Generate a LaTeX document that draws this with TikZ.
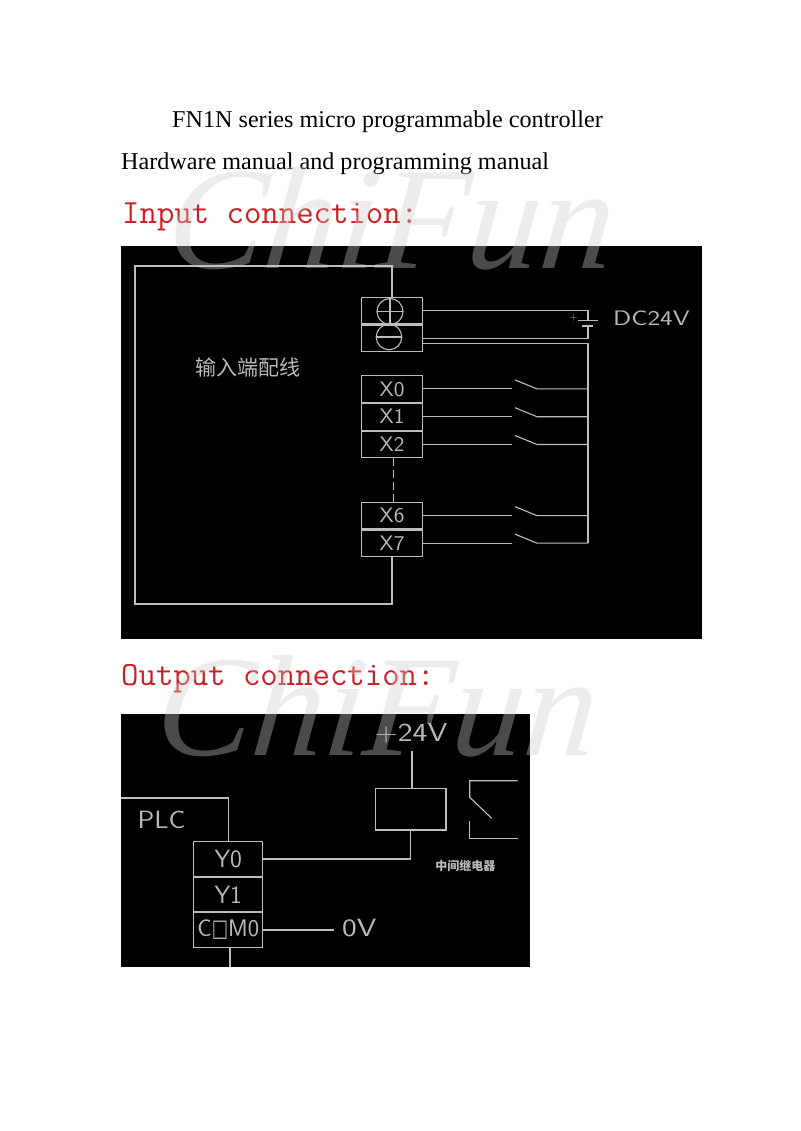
\documentclass[tikz,border=0pt]{standalone}
\usepackage{fontspec}
\setmainfont{Liberation Serif}
\newfontfamily\cjk{Noto Sans CJK SC}
\newfontfamily\symb{DejaVu Sans}
\newfontfamily\markfont[FakeSlant=0.1]{Liberation Serif}
\tikzset{
  wire/.style = {draw = cadgray,line width = 1.1pt},
  cadtext/.style = {text = cadtone,font = \sffamily\fontsize{#1}{#1}\selectfont,inner sep = 0pt},
  termbox/.style 2 args = {draw = cadgray,line width = 1.1pt,minimum width = #1,minimum height = #2,inner sep = 0pt,outer sep = 0pt},
  headline/.style = {anchor = base west,inner sep = 0pt,text = black,font = \fontsize{24.15}{24.15}\selectfont},
  redhead/.style = {anchor = base west,inner sep = 0pt,text = headred,font = \ttfamily\fontsize{33.8}{33.8}\selectfont},
  watermark/.style = {anchor = base west,inner sep = 0pt,text = markgray,text opacity = 0.37,font = \markfont\itshape\fontsize{#1}{#1}\selectfont}
}
\newcommand{\cadwide}[2]{\scalebox{#1}[1]{#2}}
\definecolor{cadgray}{gray}{0.74}
\definecolor{cadtone}{gray}{0.72}
\definecolor{headred}{RGB}{205,30,35}
\definecolor{markgray}{gray}{0.8}
\begin{document}
\begin{tikzpicture}[x = 1pt,y = -1pt]
    \useasboundingbox [fill = white] (0,0) rectangle (800,1131);
    \node [headline] (titleone) at (172,127.5) {FN1N series micro programmable controller};
    \node [headline] (titletwo) at (121,169.5) {Hardware manual and programming manual};
    \node [redhead] (inputhead) at (122,224) {Input connection:};
    \node [redhead] (outputhead) at (121,685.5) {Output connection:};
    \fill [black] (121,246) rectangle (702,639);
    \fill [black] (121,714) rectangle (530,967);
    % input side
    \matrix (powerblock) at (392,324.5) [inner sep = 0pt]{
        \node [termbox = {60.5}{26.5}] (plus) {}; \\
        \node [termbox = {60.5}{26.5}] (minus) {}; \\
    };
    \matrix (lowblock) at (392,416.7) [inner sep = 0pt]{
        \node [termbox = {60.5}{26.7},cadtext = 21] (X0) {\cadwide{1.08}{X0}}; \\
        \node [termbox = {60.5}{26.7},cadtext = 21] (X1) {\cadwide{1.08}{X1}}; \\
        \node [termbox = {60.5}{26.7},cadtext = 21] (X2) {\cadwide{1.08}{X2}}; \\
    };
    \matrix (highblock) at (392,529.4) [inner sep = 0pt]{
        \node [termbox = {60.5}{26.4},cadtext = 21] (X6) {\cadwide{1.08}{X6}}; \\
        \node [termbox = {60.5}{26.4},cadtext = 21] (X7) {\cadwide{1.08}{X7}}; \\
    };
    \draw [wire] (390,311.5) circle (13);
    \draw [wire] (377,311.5) -- (403,311.5) (390,298.5) -- (390,324);
    \draw [wire] (389,337) circle (12.8);
    \draw [wire] (376.2,337) -- (401.8,337);
    \coordinate (bus) at (588,0);
    \coordinate (swleft) at (512,0);
    \coordinate (swright) at (537,0);
    \coordinate (plateone) at (588,320.7);
    \coordinate (platetwo) at (588,326);
    \coordinate (plcnw) at (135,266);
    \coordinate (plcsw) at (135,604);
    \draw [wire] (plus.north) |- (plcnw) -- (plcsw) -| (X7.south);
    \draw [wire] (plus.east) -- (plus.east -| bus) -- (plateone);
    \draw [wire] (minus.east) -- (minus.east -| bus) -- (platetwo);
    \draw [wire] ([xshift = -10pt]plateone) -- ([xshift = 10pt]plateone);
    \draw [wire] ([xshift = -6pt]platetwo) -- ([xshift = 5pt]platetwo);
    \node [cadtext = 11] (batplus) at (573.5,317.5) {+};
    \node [cadtext = 21,anchor = west] (dclabel) at (613,318.5) {\cadwide{1.28}{DC24V}};
    \draw [wire] ([yshift = -5.5pt]minus.east) -- ([yshift = -5.5pt]minus.east -| bus) -- (X7.east -| bus);
    \foreach \name in {X0,X1,X2,X6,X7} {
        \coordinate (\name left) at (\name.east -| swleft);
        \draw [wire] (\name.east) -- (\name left);
        \draw [wire] ([shift = {(3,-9)}]\name left) -- (\name.east -| swright) -- (\name.east -| bus);
    }
    \draw [wire,dash pattern = on 8pt off 4pt] ([xshift = 1.5pt]X2.south) -- ([xshift = 1.5pt]X6.north);
    \node [text = cadtone,font = \cjk\fontsize{21}{21}\selectfont,inner sep = 0pt] (inlabel) at (248,368) {输入端配线};
    % output side
    \matrix (outblock) at (228.2,894.5) [inner sep = 0pt]{
        \node [termbox = {69}{34.4},cadtext = 25] (Y0) {Y0}; \\
        \node [termbox = {69}{34.4},cadtext = 25] (Y1) {Y1}; \\
        \node [termbox = {69}{34.4},cadtext = 24] (COM0) {C\cadwide{0.72}{\symb □}M0}; \\
    };
    \node [termbox = {70.3}{41.3}] (coil) at (410.8,809.3) {};
    \node [cadtext = 25] (plclabel) at (161.5,820) {\cadwide{1.12}{PLC}};
    \node [cadtext = 26] (supply) at (411,733.5) {\cadwide{1.22}{+24V}};
    \node [cadtext = 25,anchor = west,inner sep = 8pt] (zero) at (334,928) {\cadwide{1.25}{0V}};
    \node [text = cadtone,font = \cjk\bfseries\fontsize{12}{12}\selectfont,inner sep = 0pt] (relaylabel) at (465.3,865.7) {中间继电器};
    \coordinate (plcedge) at (121,798);
    \coordinate (vtop) at (412,751);
    \coordinate (stub) at (230,967);
    \coordinate (contactnw) at (517.7,780.7);
    \coordinate (contactse) at (517.7,838.3);
    \draw [wire] (plcedge) -| (Y0.north);
    \draw [wire] (Y0.east) -| (coil.south);
    \draw [wire] (vtop) -- (vtop |- coil.north);
    \draw [wire] (COM0.east) -- (COM0.east -| zero.west);
    \draw [wire] (stub |- COM0.south) -- (stub);
    \draw [wire] (contactnw) -- (469.7,780.7) -- (469.7,797.3) -- (491.7,818.3);
    \draw [wire] (469.7,820.7) -- (469.7,838.3) -- (contactse);
    % marks over everything
    \node [watermark = 146] (markone) at (164,269) {ChiFun};
    \node [watermark = 144] (marktwo) at (153,755) {ChiFun};
\end{tikzpicture}
\end{document}
